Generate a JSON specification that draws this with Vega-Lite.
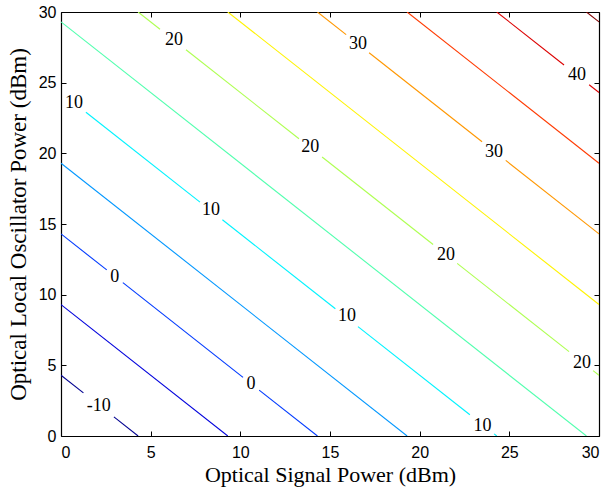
{
  "$schema": "https://vega.github.io/schema/vega-lite/v6.json",
  "width": 538,
  "height": 424,
  "autosize": {"type": "none"},
  "padding": {"left": 61, "top": 12, "right": 9, "bottom": 55},
  "background": "white",
  "config": {
    "view": {"stroke": null},
    "axis": {
      "domainColor": "black",
      "domainWidth": 1.2,
      "tickColor": "black",
      "tickWidth": 1,
      "tickSize": -5,
      "grid": false,
      "labelFont": "Liberation Sans",
      "labelFontSize": 16,
      "labelColor": "black",
      "titleFont": "Liberation Serif",
      "titleFontSize": 22,
      "titleFontWeight": "normal",
      "titleColor": "black"
    }
  },
  "datasets": {
    "lines": [
      {"level": -10, "seg": "m10a", "x": 0, "y": 4.3},
      {"level": -10, "seg": "m10a", "x": 1.25, "y": 3.05},
      {"level": -10, "seg": "m10b", "x": 2.95, "y": 1.35},
      {"level": -10, "seg": "m10b", "x": 4.3, "y": 0},
      {"level": -5, "seg": "m5a", "x": 0, "y": 9.3},
      {"level": -5, "seg": "m5a", "x": 9.3, "y": 0},
      {"level": 0, "seg": "0a", "x": 0, "y": 14.3},
      {"level": 0, "seg": "0a", "x": 2.55, "y": 11.75},
      {"level": 0, "seg": "0b", "x": 3.45, "y": 10.85},
      {"level": 0, "seg": "0b", "x": 10.15, "y": 4.15},
      {"level": 0, "seg": "0c", "x": 11.05, "y": 3.25},
      {"level": 0, "seg": "0c", "x": 14.3, "y": 0},
      {"level": 5, "seg": "5a", "x": 0, "y": 19.3},
      {"level": 5, "seg": "5a", "x": 19.3, "y": 0},
      {"level": 10, "seg": "10a", "x": 1.39, "y": 22.91},
      {"level": 10, "seg": "10a", "x": 7.75, "y": 16.55},
      {"level": 10, "seg": "10b", "x": 9.0, "y": 15.3},
      {"level": 10, "seg": "10b", "x": 15.3, "y": 9.0},
      {"level": 10, "seg": "10c", "x": 16.56, "y": 7.74},
      {"level": 10, "seg": "10c", "x": 22.8, "y": 1.5},
      {"level": 10, "seg": "10d", "x": 24.15, "y": 0.15},
      {"level": 10, "seg": "10d", "x": 24.3, "y": 0},
      {"level": 15, "seg": "15a", "x": 0, "y": 29.3},
      {"level": 15, "seg": "15a", "x": 29.3, "y": 0},
      {"level": 20, "seg": "20a", "x": 4.3, "y": 30},
      {"level": 20, "seg": "20a", "x": 5.52, "y": 28.78},
      {"level": 20, "seg": "20b", "x": 6.97, "y": 27.33},
      {"level": 20, "seg": "20b", "x": 13.27, "y": 21.03},
      {"level": 20, "seg": "20c", "x": 14.56, "y": 19.74},
      {"level": 20, "seg": "20c", "x": 20.75, "y": 13.55},
      {"level": 20, "seg": "20d", "x": 22.09, "y": 12.21},
      {"level": 20, "seg": "20d", "x": 28.33, "y": 5.97},
      {"level": 20, "seg": "20e", "x": 29.67, "y": 4.63},
      {"level": 20, "seg": "20e", "x": 30, "y": 4.3},
      {"level": 25, "seg": "25a", "x": 9.3, "y": 30},
      {"level": 25, "seg": "25a", "x": 30, "y": 9.3},
      {"level": 30, "seg": "30a", "x": 14.3, "y": 30},
      {"level": 30, "seg": "30a", "x": 15.9, "y": 28.4},
      {"level": 30, "seg": "30b", "x": 17.18, "y": 27.12},
      {"level": 30, "seg": "30b", "x": 23.48, "y": 20.82},
      {"level": 30, "seg": "30c", "x": 24.8, "y": 19.5},
      {"level": 30, "seg": "30c", "x": 30, "y": 14.3},
      {"level": 35, "seg": "35a", "x": 19.3, "y": 30},
      {"level": 35, "seg": "35a", "x": 30, "y": 19.3},
      {"level": 40, "seg": "40a", "x": 24.3, "y": 30},
      {"level": 40, "seg": "40a", "x": 28.05, "y": 26.25},
      {"level": 40, "seg": "40b", "x": 29.45, "y": 24.85},
      {"level": 40, "seg": "40b", "x": 30, "y": 24.3},
      {"level": 45, "seg": "45a", "x": 29.3, "y": 30},
      {"level": 45, "seg": "45a", "x": 30, "y": 29.3}
    ],
    "labels": [
      {"label": "20", "x": 6.3, "y": 28.05},
      {"label": "30", "x": 16.56, "y": 27.77},
      {"label": "40", "x": 28.78, "y": 25.57},
      {"label": "10", "x": 0.72, "y": 23.58},
      {"label": "20", "x": 13.9, "y": 20.45},
      {"label": "30", "x": 24.15, "y": 20.1},
      {"label": "10", "x": 8.37, "y": 16.0},
      {"label": "20", "x": 21.47, "y": 12.8},
      {"label": "0", "x": 3.0, "y": 11.24},
      {"label": "10", "x": 15.95, "y": 8.47},
      {"label": "-10", "x": 2.1, "y": 2.09},
      {"label": "0", "x": 10.6, "y": 3.65},
      {"label": "10", "x": 23.5, "y": 0.74},
      {"label": "20", "x": 29.05, "y": 5.14}
    ]
  },
  "layer": [
    {
      "data": {"name": "lines"},
      "mark": {"type": "line", "strokeWidth": 1.1, "clip": true},
      "encoding": {
        "x": {
          "field": "x", "type": "quantitative",
          "scale": {"domain": [0, 30], "nice": false, "zero": false},
          "axis": {"orient": "bottom", "values": [0, 5, 10, 15, 20, 25, 30], "title": "Optical Signal Power (dBm)", "labelPadding": 13.5, "titlePadding": 4}
        },
        "y": {
          "field": "y", "type": "quantitative",
          "scale": {"domain": [0, 30], "nice": false, "zero": false},
          "axis": {"orient": "left", "values": [0, 5, 10, 15, 20, 25, 30], "title": "Optical Local Oscillator Power (dBm)", "labelPadding": 10, "titlePadding": 8, "titleFontSize": 23}
        },
        "detail": {"field": "seg"},
        "color": {
          "field": "level", "type": "ordinal",
          "scale": {
            "domain": [-10, -5, 0, 5, 10, 15, 20, 25, 30, 35, 40, 45],
            "range": ["#000090", "#0000dc", "#003aff", "#0097ff", "#00f3ff", "#51ffae", "#aeff51", "#fff300", "#ff9700", "#ff3a00", "#dc0000", "#800000"]
          },
          "legend": null
        }
      }
    },
    {
      "data": {"name": "labels"},
      "mark": {"type": "text", "font": "Liberation Serif", "fontSize": 18, "color": "black", "align": "center", "baseline": "middle"},
      "encoding": {
        "x": {"field": "x", "type": "quantitative", "axis": {"orient": "top", "values": [0, 5, 10, 15, 20, 25, 30], "labels": false, "title": null}},
        "y": {"field": "y", "type": "quantitative", "axis": {"orient": "right", "values": [0, 5, 10, 15, 20, 25, 30], "labels": false, "title": null}},
        "text": {"field": "label"}
      }
    }
  ]
}
